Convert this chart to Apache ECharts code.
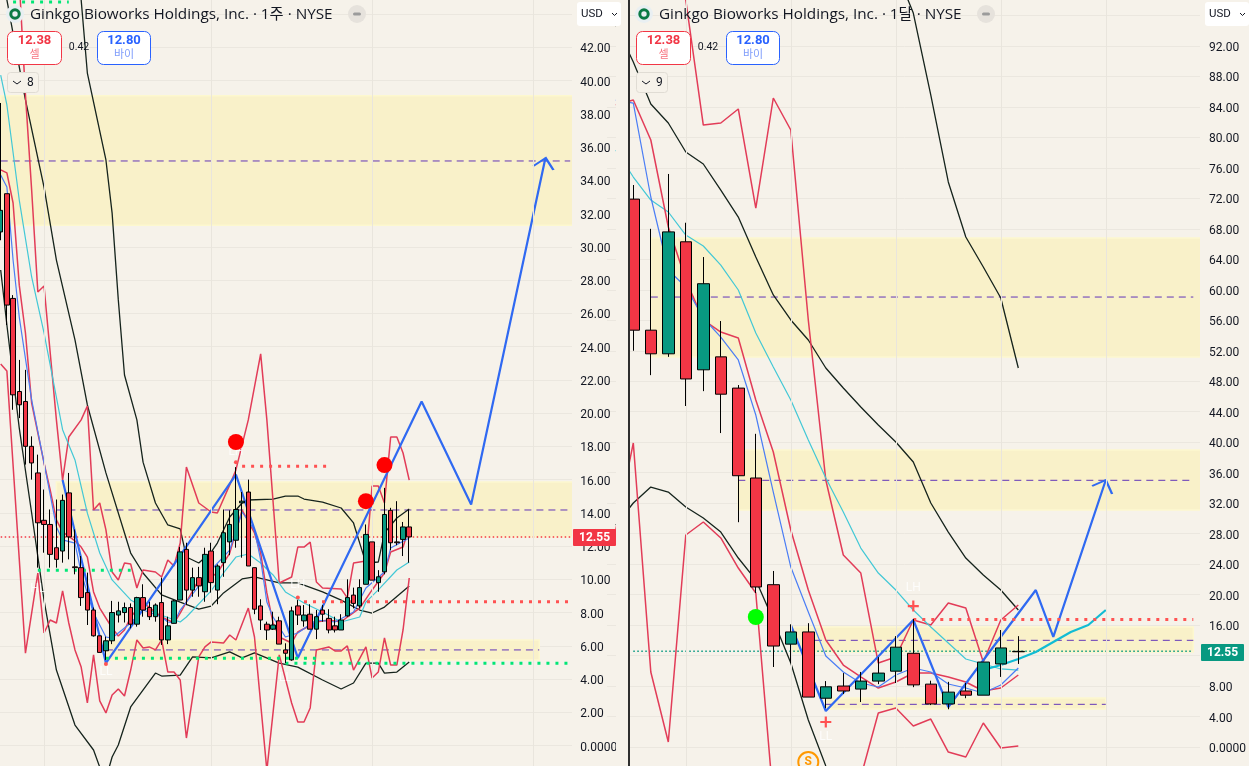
<!DOCTYPE html>
<html>
<head>
<meta charset="utf-8">
<title>Ginkgo Bioworks</title>
<script src="https://cdn.jsdelivr.net/npm/echarts@6/dist/echarts.min.js"></script>
<style>
  html, body {margin: 0; padding: 0; background: #f6f2ea;}
  #chart {width: 1249px; height: 766px;}
</style>
</head>
<body>
<div id="chart"></div>
<script>
// weekly pane
let weekOpen = [30.9,33.2,26.9,21.3,20.7,18,16.4,13.55,13.3,11.9,11.7,15.2,10.75,10.7,9.2,8.15,6.6,5.7,6.3,7.85,8,8.3,7.3,8.9,8.3,7.75,8.6,6.35,7.35,8.75,11.8,9.35,10.1,9.25,11.7,9.35,11,12.25,12.35,14.6,15.25,10.7,8.4,7.3,7,7.5,5.75,5.15,8.4,7.5,7.9,7,8.15,7.65,7.2,6.95,7.8,9.05,8.4,9.7,12.25,9.8,10.45,14.15,12.25,12.4,13.15];
let weekClose = [32.2,26.5,21.1,20.5,18,17,13.4,13.3,11.5,11.2,14.75,12.55,10.7,8.9,8.15,6.6,5.6,6.3,8,8.1,8.3,7.3,8.9,8.15,7.75,8.45,6.35,7.2,8.7,11.65,9.35,10.1,9.6,11.5,9.8,10.8,12.8,13.3,14.2,14.7,10.8,8.2,7.55,6.95,7.25,6.1,5.55,8.1,7.85,7.85,7,7.75,7.9,6.95,6.95,7.55,8.9,8.55,9.5,12.7,9.95,10.15,13.9,12.2,12.2,13.15,12.55];
let weekLow = [30.4,25.3,20.2,19.7,16.9,16,10.7,11.6,10.7,10.7,11,11.2,10.3,8.4,7.25,6.55,5.6,5.15,6.1,7.4,7.4,7.05,7.15,7.75,7.55,7.45,6.05,6.1,7.35,8.75,8.45,8.95,8.95,8.65,9.2,8.5,10.15,11.45,11.9,11.3,10.8,7.9,6.95,6.35,6.95,6.1,4.95,5.1,7.25,7.15,7,6.4,7.45,6.75,6.8,6.95,7.75,8.25,8.25,9.7,9.95,9.25,10.3,11.75,12.05,11.4,11];
let weekHigh = [38.66,33.2,27.1,23.2,22.6,18.6,17.5,15.4,14.2,14.8,15.1,16.4,13,11.4,10.4,8.3,6.6,6.55,8.7,8.65,8.6,8.55,8.95,9.7,8.65,8.55,10.1,7.75,8.75,11.95,12.2,10.7,10.75,11.9,12.2,10.9,14.2,14.15,16.75,15.25,16,10.7,8.8,7.45,8.05,7.75,6.15,8.35,8.75,8.45,8.5,8.15,8.45,8.2,7.75,7.9,10,9.5,10,13.3,12.25,10.55,15.5,14.3,14.7,13.45,14.2];

let weekRedUpper = [[3,46],[4,39.14],[5,33.42],[6,27.29],[7,27.65],[9,19.59],[10,15.97],[11,18.56],[13,19.59],[14,20.43],[15,14.17],[16,14.59],[17,12.97],[18,10.44],[19,9.96],[20,10.98],[21,10.92],[22,9.48],[23,10.56],[25,10.44],[26,10.14],[27,11.16],[28,10.8],[29,12.18],[30,16.76],[32,14.59],[34,14.05],[35,13.99],[37,15.68],[38,16.58],[40,19.59],[42,23.56],[43,19.59],[45,9.78],[47,10.14],[48,11.94],[49,11.94],[50,12.24],[51,9.84],[52,9.48],[55,9.42],[56,8.88],[57,10.98],[59,11.1],[60,15.61],[61,15.61],[62,14.59],[63,18.56],[64,18.56],[65,17.6],[66,15.97]];
let weekRedLower = [[0,22.95],[1,22.53],[4,5.56],[6,10.37],[7,6.77],[8,7.55],[9,7.37],[10,9.3],[11,7.37],[12,5.75],[13,4.72],[14,2.56],[15,5.45],[16,2.68],[17,1.96],[18,3.04],[19,3.4],[20,2.98],[21,4.54],[22,6.35],[23,5.87],[24,5.93],[25,5.75],[26,6.35],[27,4.42],[28,4.42],[29,3.94],[30,0.45],[32,5.33],[33,5.93],[34,6.23],[36,6.17],[37,6.65],[38,6.35],[40,8.27],[41,6.53],[43,-1.5],[45,5.45],[47,2.56],[48,1.41],[49,1.41],[50,2.26],[51,5.75],[53,5.93],[54,5.69],[55,5.69],[56,5.99],[57,4.54],[59,5.93],[60,4.06],[61,4.42],[62,6.47],[63,4.84],[64,4.84],[65,6.95],[66,10.08]];
let weekRedAvg = [[0,34.63],[1,34.45],[2,32.64],[3,27.7],[4,24.82],[5,20.6],[7,17],[8,15.37],[9,13.57],[10,12.85],[12,12.31],[13,11.94],[14,11.34],[15,9.24],[16,8.27],[18,7.07],[19,6.59],[20,6.95],[21,7.73],[23,8.6],[26,7.73],[28,7.37],[29,7.97],[32,9.96],[34,10.14],[35,10.38],[37,11.58],[39,14.17],[41,12.79],[42,11.58],[43,9.18],[44,7.37],[45,6.53],[47,6.17],[48,6.83],[51,7.43],[53,7.55],[55,7.43],[56,7.73],[58,8.27],[60,9.36],[62,10.38],[63,11.64],[65,11.94],[66,13.15]];
let weekBlueAvg = [[0,34.33],[1,33.6],[2,29.21],[3,25.78],[5,20.79],[7,17],[9,13.15],[10,12.37],[12,12.18],[13,10.38],[15,7.97],[17,6.53],[18,6.47],[19,6.77],[21,7.37],[23,8.15],[26,7.73],[27,7.43],[28,7.37],[29,8.15],[34,10.56],[37,11.76],[39,14.05],[41,12.97],[42,11.16],[43,8.63],[44,7.73],[46,6.53],[48,6.77],[51,7.55],[54,7.43],[57,8.03],[59,9.48],[62,10.44],[63,11.88],[66,12.48]];
let weekCyanAvg = [[0,40.34],[1,38.54],[3,32.82],[5,28.19],[7,24.82],[8,22.89],[10,19],[12,17.18],[14,13.98],[16,11.58],[18,9.96],[21,8.76],[23,8.33],[25,7.97],[29,7.43],[30,7.73],[34,9.3],[36,10.38],[38,11.34],[40,11.52],[42,10.98],[44,10.26],[46,9.24],[49,8.57],[52,8.03],[55,7.43],[58,7.73],[59,8.63],[61,9.36],[64,10.56],[66,11.04]];
let weekBlackMid = [[1,44.86],[3,40.83],[4,38.84],[7,33.6],[9,29.21],[12,24.4],[14,20.49],[17,16.4],[21,11.58],[23,10.38],[26,9.06],[29,8.63],[32,8.21],[34,8.39],[36,9.18],[39,10.02],[41,10.14],[45,9.78],[48,9.78],[52,9.24],[55,8.75],[58,8.15],[60,7.97],[62,8.33],[66,9.6]];
let weekBlackUpper = [[12,46],[13,44.86],[14,40.46],[17,35.23],[18,32.03],[19,26.81],[20,22.29],[22,19.59],[23,17.05],[25,14.59],[27,13.27],[29,13.03],[30,11.34],[32,10.98],[34,11.64],[35,12.18],[37,13.75],[39,14.59],[40,14.77],[44,14.83],[46,15.01],[48,15.01],[49,14.83],[52,14.65],[55,14.29],[57,13.39],[58,12.18],[59,10.98],[61,11.04],[62,12.79],[64,13.69],[66,14.23]];
let weekBlackLower = [[0,28.61],[1,25.3],[3,19.1],[5,13.99],[7,8.75],[9,4.54],[12,1.23],[15,-0.27],[16,-1.3],[17,-2],[18,-0.69],[19,0.03],[21,2.32],[25,4.36],[26,4.18],[29,4.24],[31,5.33],[34,5.27],[37,5.63],[39,5.27],[41,5.57],[45,4.96],[48,4.72],[52,3.94],[55,3.4],[57,3.76],[59,4.96],[61,4.96],[62,4.36],[64,4.42],[66,5.02]];
let weekZigzag = [[10,15.97],[17,4.96],[38,16.3],[48,5.27],[68,20.7],[76,14.5],[88,35.35]];

let weekZoneFrom = [0, 9, 17];
let weekZoneTo = [null, null, 87];
let weekZoneLow = [31.3, 12.55, 5.14];
let weekZoneHigh = [39.1, 15.85, 6.35];
let weekZoneMid = [35.17, 14.17, 5.75];
let weekZoneMidEnd = [92, 92, 87];
let weekGridCats = [7, 34, 60, 86];
let weekRedLevels = [[39, 53, 16.8], [49, 92, 8.65]];
let weekGreenLevels = [[2, 11, 44.73], [6, 21, 10.55], [17, 51, 5.25], [46, 92, 4.95]];
let weekBigDots = [[38, 18.26], [59, 14.7], [62, 16.87]];
let weekSmallDots = [[38, 17.05], [48, 8.9], [17, 4.9]];
let weekPivots = [[17, 4.42, 'LL'], [48, 9.66, 'LH'], [46, 4.06, 'LL'], [38, 17.66, 'LH'], [6, 9.4, 'HL']];
let weekTicksMax = 42;

// monthly pane, first slot is empty so the lines run in from off screen
let monthOpen = ['-',71.9,54.7,51.6,66.3,49.5,51.2,47.1,35.3,21.3,13.5,15.1,6.4,8,7.6,8.65,9.95,12.3,8.25,5.65,7.35,6.8,10.9,12.5];
let monthClose = ['-',54.7,51.6,67.6,48.3,60.8,46.3,35.6,21,13.25,15.1,6.55,7.9,7.35,8.65,9.7,13.1,8.15,5.65,7.2,6.8,11.15,13,12.55];
let monthLow = ['-',52,48.8,51.2,44.75,46.7,41.2,29.5,20.2,10.5,11,6.55,5.1,6.95,5.9,8.25,8.4,7.85,5.5,4.95,6.4,6.8,9.2,10.9];
let monthHigh = ['-',73.75,68,75.2,68.8,64.3,55.9,47.5,41.1,23.1,16.1,16.25,8.65,9.7,9.85,11.8,14.55,16.8,8.7,8.55,8.4,11.15,15.35,14.55];

let monthRedUpper = [[3,108],[4,98],[5,81.62],[6,81.89],[7,83.73],[8,70.73],[9,85.17],[10,80.97],[11,56.04],[12,35.04],[13,25.2],[14,22.83],[15,11.02],[16,11.81],[17,16.67],[18,16.01],[19,18.9],[20,18.24],[21,11.15],[22,16.67],[23,18.63]];
let monthRedLower = [[0,28.5],[1,39.9],[2,9.84],[3,0.66],[4,27.82],[5,29.53],[6,27.43],[7,23.49],[8,20.21],[9,-6.96],[10,-15],[11,-16],[12,-14],[13,-8],[14,-3.94],[15,4.46],[16,5.12],[17,2.76],[18,3.67],[19,-0.66],[20,-1.31],[21,3.15],[22,-0.13],[23,0.13]];
let monthRedAvg = [[0,84.25],[1,84.9],[2,79.66],[3,68.24],[4,61.28],[5,56.04],[6,54.46],[7,53.67],[8,45.54],[9,38.71],[10,28.48],[11,20.6],[12,14.04],[13,10.76],[14,9.19],[15,7.74],[16,8.53],[17,9.71],[18,9.71],[19,9.19],[20,8.53],[21,7.35],[22,7.74],[23,9.45]];
let monthBlueAvg = [[0,84.9],[1,84.51],[2,72.18],[3,62.6],[4,60.37],[5,56.3],[6,53.8],[7,50.79],[8,43.57],[9,33.46],[10,23.62],[11,17.72],[12,11.94],[13,9.84],[14,8.4],[15,7.87],[16,9.45],[17,10.37],[18,9.84],[19,8.27],[20,7.74],[21,7.09],[22,8.14],[23,10.37]];
let monthCyanAvg = [[0,78.34],[1,74.8],[2,71.78],[3,70.21],[4,67.19],[5,65.75],[6,63.25],[7,59.97],[8,54.33],[9,49.87],[10,45.54],[11,40.29],[12,35.3],[13,30.84],[14,26.11],[15,22.83],[16,20.6],[17,17.98],[18,15.75],[19,13.65],[20,11.55],[21,10.89],[22,10.24],[23,10.1]];
let monthBlackMid = [[0,94.75],[1,89.9],[2,84.38],[3,81.89],[4,78.08],[5,76.51],[6,73.09],[7,69.55],[8,64.3],[9,59.32],[10,56.04],[11,53.41],[12,49.74],[13,47.11],[14,44.62],[15,42.26],[16,40.03],[17,37.4],[18,32.02],[19,28.21],[20,24.8],[21,22.57],[22,20.6],[23,17.98]];
let monthBlackUpper = [[16,102],[17,96.32],[18,85.56],[19,74.15],[20,66.93],[21,62.99],[22,58.92],[23,49.74]];
let monthBlackLower = [[0,29.13],[1,32.02],[2,34.12],[3,33.46],[4,31.5],[5,30.05],[6,28.21],[7,24.8],[8,21.92],[9,16.67],[10,11.02],[11,3.54],[12,-2.49],[13,-8.3]];
let monthZigzag = [[10,16.01],[12,4.72],[17,16.67],[19,5.25],[24,20.6],[25,14.44],[28,35.04]];
let monthCyanThick = [[21,10.1],[22,10.76],[23,11.55],[24,12.47],[25,13.78],[26,15.09],[27,16.01],[28,17.98]];

let monthZoneFrom = [2, 7, 10, 12];
let monthZoneTo = [null, null, 33, 28];
let monthZoneLow = [51.18, 31.1, 12.47, 4.99];
let monthZoneHigh = [66.8, 38.97, 15.75, 6.43];
let monthZoneMid = [59.05, 35, 14, 5.6];
let monthZoneMidEnd = [33, 33, 33, 28];
let monthGridCats = [4, 10, 16, 22, 28];
let monthRedLevels = [[17, 33, 16.73]];
let monthBigDots = [[8, 17.06]];
let monthPlus = [[12, 3.28], [17, 18.5]];
let monthPivots = [[12, 1.31, 'LL'], [17, 20.87, 'LH']];
let monthTicksMax = 92;

let lastPrice = 12.55;

const BG = '#f6f2ea';
const RED_LINE = '#e23c58';
const BLUE_LINE = '#4a7df5';
const CYAN_LINE = '#42c8d6';
const BLACK_LINE = '#15231c';
const ZIGZAG = '#2f69f2';
const PURPLE = '#6236b8';
const FONT = 'Roboto, "Noto Sans CJK KR", sans-serif';
const TITLE_FONT = '"Open Sans", "Noto Sans CJK KR", sans-serif';

let weekCats = [];
for (let i = 0; i < 93; i++) weekCats.push('w' + i);
let monthCats = [];
for (let i = 0; i < 34; i++) monthCats.push('m' + i);

function line(pane, data, color, width, extra) {
  return Object.assign({
    type: 'line',
    xAxisIndex: pane,
    yAxisIndex: pane,
    data: data,
    showSymbol: false,
    silent: true,
    z: 3,
    itemStyle: {color: color},
    lineStyle: {color: color, width: width}
  }, extra || {});
}

function levels(pane, list, color) {
  return list.map(function (item) {
    return line(pane, [[item[0], item[2]], [item[1], item[2]]], color, 3, {
      lineStyle: {color: color, width: 3, type: [3, 6]}, z: 4
    });
  });
}

function zones(pane, from, to, low, high, mid, midEnd) {
  let list = [];
  let areas = from.map(function (start, idx) {
    let far = {yAxis: high[idx]};
    if (to[idx] !== null) far.xAxis = to[idx];
    return [{xAxis: start, yAxis: low[idx]}, far];
  });
  list.push(line(pane, [], '#000', 1, {
    z: 1,
    markArea: {
      silent: true,
      itemStyle: {color: '#f9f1c9', borderColor: '#fdf8cf', borderWidth: 1.5},
      data: areas
    }
  }));
  from.forEach(function (start, idx) {
    list.push(line(pane, [[start, mid[idx]], [midEnd[idx], mid[idx]]], PURPLE, 1, {
      lineStyle: {color: PURPLE, width: 1, type: [7, 5]}, z: 2
    }));
  });
  return list;
}

function gridLines(pane, cats) {
  return line(pane, [], '#000', 1, {
    z: 0,
    markLine: {
      silent: true,
      symbol: 'none',
      label: {show: false},
      lineStyle: {color: '#e9e5dd', width: 1, type: 'solid'},
      data: cats.map(function (c) { return {xAxis: c}; })
    }
  });
}

function candles(pane, open, close, low, high, width) {
  let rows = open.map(function (o, idx) {
    return [o, close[idx], low[idx], high[idx]];
  });
  return {
    type: 'candlestick',
    xAxisIndex: pane,
    yAxisIndex: pane,
    data: rows,
    barWidth: width,
    silent: true,
    z: 5,
    itemStyle: {
      color: '#089981',
      color0: '#f23645',
      borderColor: '#000',
      borderColor0: '#000',
      borderWidth: 1
    }
  };
}

function dots(pane, data, size, color) {
  return {
    type: 'scatter',
    xAxisIndex: pane,
    yAxisIndex: pane,
    data: data,
    symbol: 'circle',
    symbolSize: size,
    silent: true,
    z: 7,
    itemStyle: {color: color, opacity: 1}
  };
}

function pivots(pane, data) {
  return {
    type: 'scatter',
    xAxisIndex: pane,
    yAxisIndex: pane,
    data: data,
    symbolSize: 1,
    silent: true,
    z: 6,
    itemStyle: {color: 'none'},
    label: {
      show: true,
      position: 'inside',
      color: '#ffffff',
      fontFamily: FONT,
      fontSize: 12,
      formatter: function (p) { return p.value[2]; }
    }
  };
}

function arrowHead(pane, point, path, size, offset) {
  return {
    type: 'scatter',
    xAxisIndex: pane,
    yAxisIndex: pane,
    data: [point],
    symbol: path,
    symbolSize: size,
    symbolOffset: offset,
    silent: true,
    z: 4,
    itemStyle: {color: 'none', borderColor: ZIGZAG, borderWidth: 2, opacity: 1}
  };
}

function axisLabel(top) {
  return {
    color: '#131722',
    fontFamily: FONT,
    fontSize: 12,
    margin: 7,
    rich: {
      tick: {color: '#131722', fontFamily: FONT, fontSize: 12, padding: [4, 0, 0, 0]}
    },
    formatter: function (v) {
      if (v > top || v < 0) return '';
      return '{tick|' + (v === 0 ? '0.0000' : v.toFixed(2)) + '}';
    }
  };
}

function priceAxis(index, min, max, step, top) {
  return {
    gridIndex: index,
    type: 'value',
    position: 'right',
    min: min,
    max: max,
    interval: step,
    scale: true,
    axisLine: {show: false},
    axisTick: {show: false},
    axisLabel: axisLabel(top),
    splitLine: {lineStyle: {color: '#ebe7df', width: 1}}
  };
}

// legend, buttons and other text that sits over one pane
function header(dx, period, count) {
  let t = function (x, y, text, size, color, align, weight, family) {
    return {
      type: 'text', x: x + dx, y: y, z: 20,
      style: {
        text: text, fontSize: size, fill: color, align: align || 'left', verticalAlign: 'middle',
        fontWeight: weight || 'normal', fontFamily: family || FONT
      }
    };
  };
  let box = function (x, y, w, h, r, fill, stroke) {
    return {
      type: 'rect', z: 19,
      shape: {x: x + dx, y: y, width: w, height: h, r: r},
      style: {fill: fill, stroke: stroke, lineWidth: 1}
    };
  };
  return [
    {type: 'circle', z: 19, shape: {cx: 15 + dx, cy: 14, r: 9}, style: {fill: '#e9eff2'}},
    {type: 'circle', z: 20, shape: {cx: 15 + dx, cy: 14, r: 4.2}, style: {fill: 'none', stroke: '#0b7a45', lineWidth: 3}},
    t(30, 14.5, 'Ginkgo Bioworks Holdings, Inc. · ' + period + ' · NYSE', 15.3, '#131722', 'left', 'normal', TITLE_FONT),
    {type: 'circle', z: 19, shape: {cx: 357 + dx, cy: 14, r: 9}, style: {fill: '#e6e2dc'}},
    box(353, 12.5, 8, 3, 1.5, '#9b9b9b', 'none'),
    box(7.5, 31.5, 54, 33, 6, '#ffffff', '#f23645'),
    t(34.5, 41, '12.38', 13, '#f23645', 'center', 'bold'),
    t(34.5, 55, '셀', 11, '#f7737f', 'center'),
    t(79, 47.5, '0.42', 10.5, '#131722', 'center'),
    box(97.5, 31.5, 53, 33, 6, '#ffffff', '#2962ff'),
    t(124, 41, '12.80', 13, '#2962ff', 'center', 'bold'),
    t(124, 55, '바이', 11, '#7f9dfb', 'center'),
    box(7.5, 72.5, 31, 20, 3, BG, '#e0dcd4'),
    {type: 'polyline', z: 20, shape: {points: [[13 + dx, 81], [17 + dx, 84], [21 + dx, 81]]}, style: {fill: 'none', stroke: '#131722', lineWidth: 1}},
    t(27, 83, count, 12, '#131722')
  ];
}

function usdBox(x) {
  return [
    {type: 'rect', z: 19, shape: {x: x, y: 2, width: 44, height: 24, r: 3}, style: {fill: '#ffffff'}},
    {type: 'text', x: x + 4, y: 14, z: 20, style: {text: 'USD', fontSize: 11.5, fill: '#131722', fontFamily: FONT, verticalAlign: 'middle'}},
    {type: 'polyline', z: 20, shape: {points: [[x + 35, 13], [x + 37.5, 15.5], [x + 40, 13]]}, style: {fill: 'none', stroke: '#131722', lineWidth: 1}}
  ];
}

function priceTag(x, y, w, color) {
  return [
    {type: 'rect', z: 19, shape: {x: x, y: y, width: w, height: 17, r: 1}, style: {fill: color}},
    {type: 'text', x: x + w / 2, y: y + 9, z: 20, style: {text: lastPrice.toFixed(2), fontSize: 12, fontWeight: 'bold', fill: '#ffffff', fontFamily: FONT, align: 'center', verticalAlign: 'middle'}}
  ];
}

let series = [];
series.push(gridLines(0, weekGridCats));
series = series.concat(zones(0, weekZoneFrom, weekZoneTo, weekZoneLow, weekZoneHigh, weekZoneMid, weekZoneMidEnd));
series.push(line(0, [[0, lastPrice], [92, lastPrice]], '#f23645', 1.5, {lineStyle: {color: '#f23645', width: 1.5, type: [1.5, 2.5]}, z: 2}));
series.push(line(0, weekBlackUpper, BLACK_LINE, 1.3));
series.push(line(0, weekBlackMid, BLACK_LINE, 1.3));
series.push(line(0, weekBlackLower, BLACK_LINE, 1.3));
series.push(line(0, weekRedUpper, RED_LINE, 1.5));
series.push(line(0, weekRedLower, RED_LINE, 1.5));
series.push(line(0, weekCyanAvg, CYAN_LINE, 1.2));
series.push(line(0, weekRedAvg, RED_LINE, 1.5));
series.push(line(0, weekBlueAvg, BLUE_LINE, 1.2));
series.push(line(0, weekZigzag, ZIGZAG, 2.2, {z: 4}));
series.push(arrowHead(0, weekZigzag[weekZigzag.length - 1], 'path://M0 8 L12.3 0 L20 12', [20, 12], [-2, 6]));
series = series.concat(levels(0, weekRedLevels, '#ff5252'), levels(0, weekGreenLevels, '#00e676'));
series.push(candles(0, weekOpen, weekClose, weekLow, weekHigh, 5));
series.push(pivots(0, weekPivots));
series.push(dots(0, weekSmallDots, 4, '#ff5252'));
series.push(dots(0, weekBigDots, 16, '#ff0000'));

series.push(gridLines(1, monthGridCats));
series = series.concat(zones(1, monthZoneFrom, monthZoneTo, monthZoneLow, monthZoneHigh, monthZoneMid, monthZoneMidEnd));
series.push(line(1, [[1, lastPrice], [33, lastPrice]], '#089981', 1.5, {lineStyle: {color: '#089981', width: 1.5, type: [1.5, 2.5]}, z: 2}));
series.push(line(1, monthBlackUpper, BLACK_LINE, 1.3));
series.push(line(1, monthBlackMid, BLACK_LINE, 1.3));
series.push(line(1, monthBlackLower, BLACK_LINE, 1.3));
series.push(line(1, monthRedUpper, RED_LINE, 1.5));
series.push(line(1, monthRedLower, RED_LINE, 1.5));
series.push(line(1, monthCyanAvg, CYAN_LINE, 1.2));
series.push(line(1, monthRedAvg, RED_LINE, 1.5));
series.push(line(1, monthBlueAvg, BLUE_LINE, 1.2));
series.push(line(1, monthZigzag, ZIGZAG, 2.2, {z: 4}));
series.push(line(1, monthCyanThick, '#12bcd4', 2.2, {z: 4}));
series.push(arrowHead(1, monthZigzag[monthZigzag.length - 1], 'path://M0 6 L13.7 0 L20 14', [20, 14], [-3.7, 7]));
series = series.concat(levels(1, monthRedLevels, '#ff5252'));
series.push(candles(1, monthOpen, monthClose, monthLow, monthHigh, 12));
series.push(pivots(1, monthPivots));
series.push(dots(1, monthBigDots, 16, '#00ff00'));
series.push({
  type: 'scatter',
  xAxisIndex: 1,
  yAxisIndex: 1,
  data: monthPlus,
  symbol: 'path://M4 0h2v4h4v2h-4v4h-2v-4h-4v-2h4z',
  symbolSize: 11,
  silent: true,
  z: 7,
  itemStyle: {color: '#ff5252', opacity: 1}
});
series.push({
  type: 'scatter',
  xAxisIndex: 1,
  yAxisIndex: 1,
  data: [[11, -1.97]],
  symbol: 'circle',
  symbolSize: 20,
  silent: true,
  z: 7,
  itemStyle: {color: BG, borderColor: '#ff9800', borderWidth: 2, opacity: 1},
  label: {show: true, position: 'inside', formatter: 'S', color: '#ff9800', fontSize: 12, fontFamily: FONT, fontWeight: 'bold'}
});

let cover = [
  {type: 'rect', z: 15, shape: {x: 572, y: 0, width: 5, height: 766}, style: {fill: BG}},
  {type: 'rect', z: 15, shape: {x: 1200, y: 0, width: 5, height: 766}, style: {fill: BG}},
  {type: 'rect', z: 15, shape: {x: 616, y: 0, width: 12, height: 766}, style: {fill: BG}},
  {type: 'rect', z: 16, shape: {x: 628, y: 0, width: 2, height: 766}, style: {fill: '#2e2e2e'}}
];

let myEcharts = echarts.init(document.getElementById('chart'), null, {renderer: 'canvas'});
let option = {
  animation: false,
  backgroundColor: BG,
  tooltip: {show: false},
  grid: [
    {left: -2.4, top: -19.02, width: 575.67, height: 797.76, outerBoundsMode: 'none'},
    {left: 607.05, top: -15, width: 595, height: 792.48, outerBoundsMode: 'none'}
  ],
  xAxis: [
    {gridIndex: 0, type: 'category', data: weekCats, show: false},
    {gridIndex: 1, type: 'category', data: monthCats, show: false}
  ],
  yAxis: [
    priceAxis(0, -2, 46, 2, weekTicksMax),
    priceAxis(1, -4, 100, 4, monthTicksMax)
  ],
  series: series,
  graphic: cover.concat(
    priceTag(573, 529, 43, '#f23645'),
    priceTag(1201, 644, 43, '#089981'),
    usdBox(577),
    usdBox(1205),
    header(0, '1주', '8'),
    header(629, '1달', '9')
  )
};
myEcharts.setOption(option);
</script>
</body>
</html>
